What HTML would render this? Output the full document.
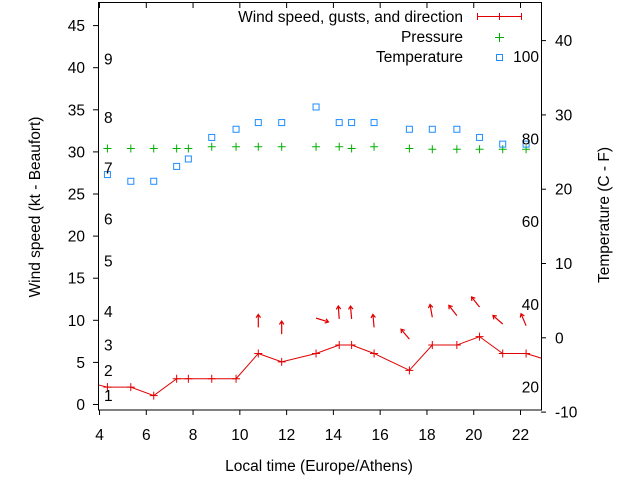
<!DOCTYPE html>
<html><head><meta charset="utf-8"><style>
html,body{margin:0;padding:0;background:#fff;}
svg{display:block;font-family:"Liberation Sans",sans-serif;font-size:15.5px;}
</style></head><body>
<svg id="chart" width="640" height="480" viewBox="0 0 640 480" xmlns="http://www.w3.org/2000/svg">
<rect x="0" y="0" width="640" height="480" fill="#fff"/>
<g id="marks"></g>
<rect x="98.5" y="2.5" width="443" height="407.5" fill="none" stroke="#000" stroke-width="1"/>
<g id="axes"></g>
<text transform="translate(40,207) rotate(-90)" text-anchor="middle">Wind speed (kt - Beaufort)</text>
<text transform="translate(609,215) rotate(-90)" text-anchor="middle">Temperature (C - F)</text>
<text x="319" y="471" text-anchor="middle">Local time (Europe/Athens)</text>
<g>
<text x="463" y="22" text-anchor="end">Wind speed, gusts, and direction</text>
<line x1="477" y1="16.5" x2="521" y2="16.5" stroke="#e00000"/>
<line x1="477.5" y1="13" x2="477.5" y2="20" stroke="#e00000"/>
<line x1="521.5" y1="13" x2="521.5" y2="20" stroke="#e00000"/>
<line x1="499.5" y1="13" x2="499.5" y2="20" stroke="#e00000"/>
<text x="463" y="42" text-anchor="end">Pressure</text>
<path d="M495 37.5h9M499.5 33v9" stroke="#00b000" fill="none"/>
<text x="463" y="62" text-anchor="end">Temperature</text>
<rect x="496.5" y="54.5" width="6" height="6" fill="none" stroke="#1e8cff"/>
</g>
</svg>
<script>
const hours=[4.36,5.36,6.34,7.32,7.82,8.82,9.86,10.81,11.81,13.28,14.27,14.8,15.76,17.27,18.25,19.3,20.27,21.26,22.26];
const windSpeed=[2,2,1,3,3,3,3,6,5,6,7,7,6,4,7,7,8,6,6];
const pressure=[30.35,30.35,30.35,30.35,30.35,30.55,30.55,30.55,30.55,30.55,30.55,30.35,30.55,30.35,30.25,30.25,30.25,30.25,30.25];
const temperature=[21.9,21.0,21.0,23.0,24.0,26.9,28.0,28.9,28.9,31.0,28.9,28.9,28.9,28.0,28.0,28.0,26.9,26.0,26.0];
const arrowHours=[10.81,11.81,13.28,14.27,14.8,15.76,17.27,18.25,19.3,20.27,21.26,22.26];
const arrowLevel=[9.1,8.3,10.2,10.1,10.1,9.1,7.7,10.3,10.5,11.5,9.5,9.3];
const arrowDir=[0,0,107,356,355,355,320,350,322,322,311,337];
const xTicks=[4,6,8,10,12,14,16,18,20,22];
const yTicks=[0,5,10,15,20,25,30,35,40,45];
const y2Ticks=[-10,0,10,20,30,40];
const beaufortLabels=["1","2","3","4","5","6","7","8","9"];
const beaufortKt=[1,4,7,11,17,22,28,34,41];
const fahrenheitLabels=[20,40,60,80,100];

const NS="http://www.w3.org/2000/svg";
const X=h=>99+(h-4)*23.39;
const Y=v=>404-v*8.42;
const Y2=c=>337.3-c*7.43;
const marks=document.getElementById('marks');
const axes=document.getElementById('axes');
function mk(tag,attrs,parent){const e=document.createElementNS(NS,tag);for(const k in attrs)e.setAttribute(k,attrs[k]);parent.appendChild(e);return e;}

const cp=mk('clipPath',{id:'pc'},marks);
mk('rect',{x:99,y:3,width:442,height:407},cp);
const g=mk('g',{'clip-path':'url(#pc)'},marks);

let pts=[[X(3.6),Y(2.5)]];
hours.forEach((h,i)=>pts.push([X(h),Y(windSpeed[i])]));
pts.push([X(23.2),Y(5.2)]);
const wl=mk('polyline',{points:pts.map(p=>p.join(',')).join(' '),fill:'none',stroke:'#e00000','stroke-width':1},g);


hours.forEach((h,i)=>{
  const p=mk('path',{d:`M${X(h)-4} ${Y(windSpeed[i])}h8M${X(h)} ${Y(windSpeed[i])-4}v8`,stroke:'#e00000',fill:'none'},g);
  
  
});
hours.forEach((h,i)=>{
  const p=mk('path',{d:`M${X(h)-4} ${Y(pressure[i])}h8M${X(h)} ${Y(pressure[i])-4}v8`,stroke:'#00b000',fill:'none'},g);
  
  
});
hours.forEach((h,i)=>{
  const r=mk('rect',{x:X(h)-3,y:Y2(temperature[i])-3,width:6,height:6,fill:'none',stroke:'#1e8cff'},g);
  
  
});
arrowHours.forEach((h,i)=>{
  const a=arrowDir[i]*Math.PI/180,L=13;
  const x0=X(h),y0=Y(arrowLevel[i]);
  const x1=x0+L*Math.sin(a),y1=y0-L*Math.cos(a);
  const b1=a+Math.PI-0.6,b2=a+Math.PI+0.6,hl=4;
  const d=`M${x0} ${y0}L${x1} ${y1}M${x1+hl*Math.sin(b1)} ${y1-hl*Math.cos(b1)}L${x1} ${y1}L${x1+hl*Math.sin(b2)} ${y1-hl*Math.cos(b2)}`;
  const p=mk('path',{d:d,stroke:'#e00000',fill:'none','stroke-width':1.2},g);
  
  
});
beaufortLabels.forEach((t,i)=>{
  const e=mk('text',{x:104,y:Y(beaufortKt[i])+5.5},marks);e.textContent=t;
  
  
});
fahrenheitLabels.forEach(f=>{
  const e=mk('text',{x:539,y:Y2((f-32)*5/9)+5.5,'text-anchor':'end'},marks);e.textContent=f;
  
  
});
xTicks.forEach(t=>{
  const x=X(t)+0.5;
  mk('line',{x1:x,y1:410,x2:x,y2:415,stroke:'#000'},axes);
  mk('line',{x1:x,y1:3,x2:x,y2:8,stroke:'#000'},axes);
  const e=mk('text',{x:x,y:440,'text-anchor':'middle'},axes);e.textContent=t;
  
  
});
yTicks.forEach(t=>{
  const y=Y(t)+0.5;
  mk('line',{x1:93,y1:y,x2:98,y2:y,stroke:'#000'},axes);
  const e=mk('text',{x:85,y:y+5.5,'text-anchor':'end'},axes);e.textContent=t;
  
  
});
y2Ticks.forEach(t=>{
  const y=Y2(t)+0.5;
  mk('line',{x1:541,y1:y,x2:546,y2:y,stroke:'#000'},axes);
  const e=mk('text',{x:555,y:y+5.5},axes);e.textContent=t;
  
  
});
</script>
</body></html>
